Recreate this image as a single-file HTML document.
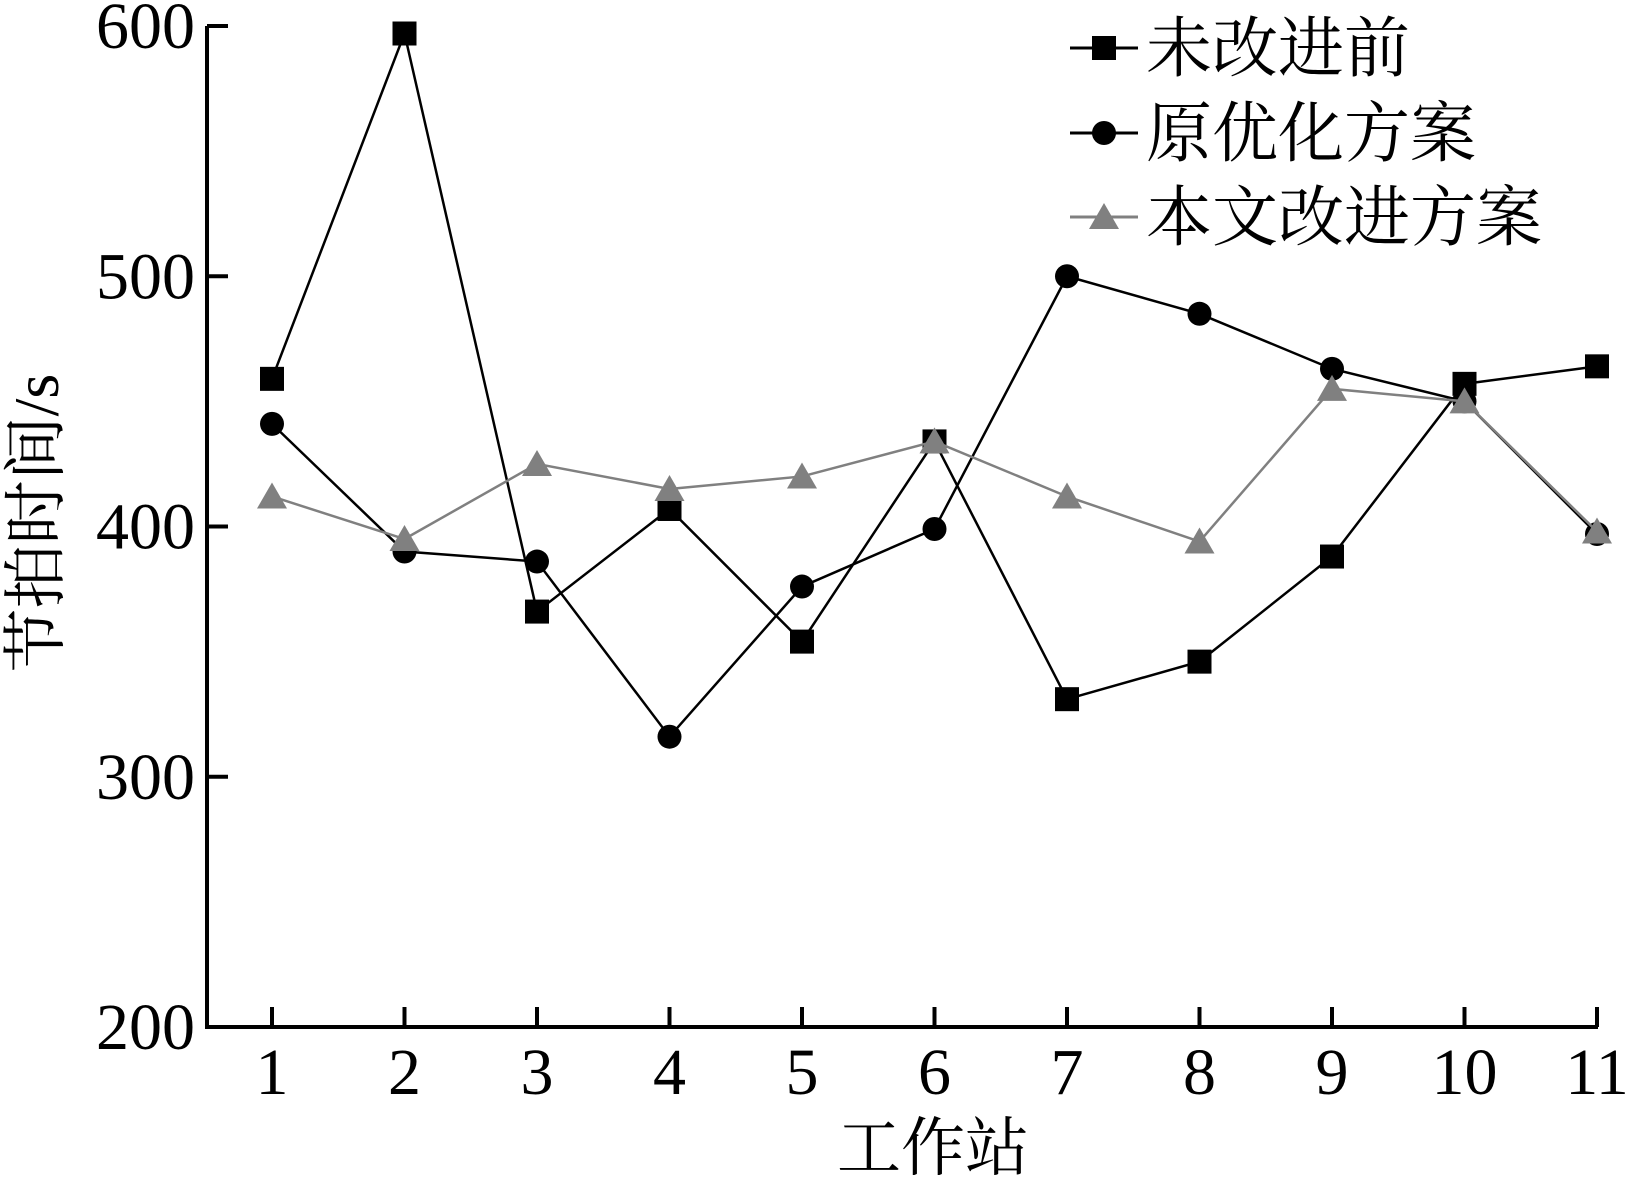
<!DOCTYPE html>
<html><head><meta charset="utf-8"><style>
body{margin:0;background:#fff}
svg text{font-family:"Liberation Serif","Noto Serif CJK SC",serif;fill:#000}
</style></head><body>
<svg width="1626" height="1177" viewBox="0 0 1626 1177" xmlns="http://www.w3.org/2000/svg">
<g id="axes"></g>
<g id="series"></g>
<g id="legend"></g>
</svg>
<script>
const categories=[1,2,3,4,5,6,7,8,9,10,11];
const yTicks=[200,300,400,500,600];
const seriesBefore=[459,597,366,407,354,434,331,346,388,457,464];
const seriesOriginal=[441,390,386,316,376,399,500,485,463,450,397];
const seriesImproved=[412,395,425,415,420,434,412,394,455,450,398];
const seriesNames=["未改进前","原优化方案","本文改进方案"];

const NS="http://www.w3.org/2000/svg";
const X0=207,X1=1598,Y0=1027,Y1=26;
function xs(i){return 272+i*132.5;}
function ys(v){return Y0-(v-200)/400*(Y0-Y1);}
function mk(tag,attrs,parent){const e=document.createElementNS(NS,tag);for(const k in attrs)e.setAttribute(k,attrs[k]);parent.appendChild(e);return e;}
const axes=document.getElementById('axes'),ser=document.getElementById('series'),leg=document.getElementById('legend');

let a=mk('path',{d:`M${X0} ${Y1}V${Y0}H${X1}`,stroke:'#000','stroke-width':4,fill:'none'},axes);


yTicks.forEach(v=>{
 let t=mk('line',{x1:X0,x2:X0+21,y1:ys(v),y2:ys(v),stroke:'#000','stroke-width':4},axes);
 
 
 let l=mk('text',{x:195,y:ys(v)+22,'text-anchor':'end','font-size':66},axes);l.textContent=v;
 
 
});
categories.forEach((c,i)=>{
 let t=mk('line',{x1:xs(i),x2:xs(i),y1:Y0,y2:Y0-20,stroke:'#000','stroke-width':4},axes);
 
 
 let l=mk('text',{x:xs(i),y:1094,'text-anchor':'middle','font-size':66},axes);l.textContent=c;
 
 
});
let xt=mk('text',{x:933,y:1170,'text-anchor':'middle','font-size':64},axes);xt.textContent='工作站';


let yt=mk('text',{x:0,y:0,'text-anchor':'middle','font-size':64,transform:'translate(58,523) rotate(-90)'},axes);yt.textContent='节拍时间/s';



function marker(type,x,y,color,parent){
 let e;
 if(type==='sq')e=mk('rect',{x:x-12,y:y-12,width:24,height:24,fill:color},parent);
 else if(type==='ci')e=mk('circle',{cx:x,cy:y,r:12,fill:color},parent);
 else e=mk('polygon',{points:`${x},${y-14} ${x-15},${y+12} ${x+15},${y+12}`,fill:color},parent);
 return e;
}
const defs=[[seriesBefore,'sq','#000','before'],[seriesOriginal,'ci','#000','original'],[seriesImproved,'tr','#808080','improved']];
defs.forEach(([data,type,color,nm],si)=>{
 let pl=mk('polyline',{points:data.map((v,i)=>xs(i)+','+ys(v)).join(' '),fill:'none',stroke:color,'stroke-width':2.5},ser);
 
 
 data.forEach((v,i)=>{
  let m=marker(type,xs(i),ys(v),color,ser);
  
  
 });
 const ly=[48,133,217][si];
 let ll=mk('line',{x1:1070,x2:1138,y1:ly,y2:ly,stroke:color,'stroke-width':3},leg);
 
 
 let lm=marker(type,1104,ly,color,leg);
 
 
 let lt=mk('text',{x:1146,y:ly+23,'font-size':66},leg);lt.textContent=seriesNames[si];
 
 
});
</script>
</body></html>
